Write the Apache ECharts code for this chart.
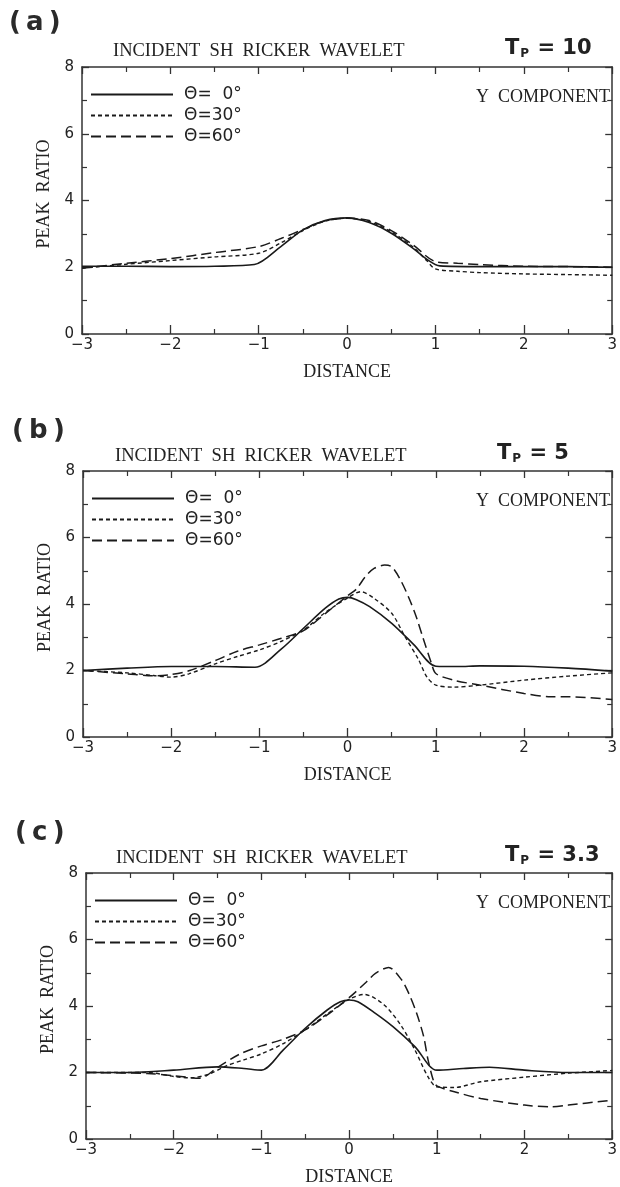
<!DOCTYPE html>
<html>
<head>
<meta charset="utf-8">
<script src="https://cdn.jsdelivr.net/npm/echarts@6/dist/echarts.min.js"></script>
<style>
html,body{margin:0;padding:0;background:#fff;}
#chart{width:620px;height:1187px;}
</style>
</head>
<body>
<div id="chart"></div>
<script>
// ---- data ----
const seriesNames = ['\u0398=  0\u00b0', '\u0398=30\u00b0', '\u0398=60\u00b0'];
const panelLabels = ['(\u2009a\u2009)', '(\u2009b\u2009)', '(\u2009c\u2009)'];
const tpValues = ['10', '5', '3.3'];
const xTicks = [-3, -2, -1, 0, 1, 2, 3];
const yTicks = [0, 2, 4, 6, 8];

// panel (a) Tp = 10
const xA0 = [-3, -2.5, -2, -1.5, -1.05, -0.75, -0.5, -0.25, 0, 0.25, 0.5, 0.75, 0.9, 1.05, 1.5, 2, 2.5, 3];
const yA0 = [2.03, 2.03, 2.02, 2.03, 2.08, 2.62, 3.12, 3.4, 3.48, 3.34, 3.02, 2.56, 2.24, 2.04, 2.02, 2.02, 2.02, 2.0];
const xA30 = [-3, -2.5, -2, -1.5, -1, -0.75, -0.5, -0.25, 0, 0.25, 0.5, 0.75, 0.9, 1.0, 1.25, 1.5, 2, 2.5, 3];
const yA30 = [1.97, 2.09, 2.2, 2.31, 2.42, 2.73, 3.1, 3.38, 3.47, 3.37, 3.06, 2.6, 2.2, 1.95, 1.88, 1.84, 1.8, 1.78, 1.76];
const xA60 = [-3, -2.5, -2, -1.5, -1, -0.75, -0.5, -0.25, 0, 0.25, 0.5, 0.75, 1.0, 1.25, 1.5, 2, 2.5, 3];
const yA60 = [1.97, 2.12, 2.26, 2.44, 2.62, 2.86, 3.13, 3.39, 3.47, 3.4, 3.1, 2.66, 2.17, 2.12, 2.08, 2.03, 2.02, 2.0];

// panel (b) Tp = 5
const xB0 = [-3, -2.5, -2, -1.5, -1.05, -0.75, -0.5, -0.25, -0.1, 0, 0.1, 0.25, 0.5, 0.75, 1.0, 1.25, 1.5, 2, 2.5, 3];
const yB0 = [2.0, 2.07, 2.12, 2.12, 2.1, 2.65, 3.27, 3.88, 4.15, 4.2, 4.13, 3.92, 3.42, 2.78, 2.13, 2.12, 2.14, 2.13, 2.07, 1.98];
const xB30 = [-3, -2.5, -2.2, -2, -1.8, -1.5, -1.25, -1, -0.75, -0.5, -0.25, 0, 0.15, 0.3, 0.5, 0.65, 0.8, 0.9, 1.0, 1.2, 1.5, 2, 2.5, 3];
const yB30 = [2.0, 1.93, 1.85, 1.8, 1.9, 2.2, 2.42, 2.62, 2.88, 3.22, 3.75, 4.18, 4.37, 4.17, 3.72, 3.02, 2.35, 1.8, 1.56, 1.5, 1.56, 1.71, 1.83, 1.93];
const xB60 = [-3, -2.5, -2.2, -2, -1.8, -1.5, -1.25, -1, -0.75, -0.5, -0.25, 0, 0.1, 0.2, 0.3, 0.42, 0.5, 0.6, 0.7, 0.78, 0.85, 0.95, 1.0, 1.2, 1.5, 2, 2.3, 2.5, 3];
const yB60 = [2.0, 1.9, 1.84, 1.88, 1.99, 2.3, 2.58, 2.77, 2.97, 3.2, 3.72, 4.25, 4.45, 4.82, 5.07, 5.17, 5.12, 4.72, 4.15, 3.6, 3.02, 2.22, 1.91, 1.71, 1.56, 1.31, 1.21, 1.21, 1.13];

// panel (c) Tp = 3.3
const xC0 = [-3, -2.5, -2, -1.5, -1.2, -1.0, -0.75, -0.5, -0.25, -0.1, 0, 0.1, 0.3, 0.5, 0.75, 1.0, 1.3, 1.6, 2, 2.5, 3];
const yC0 = [2.0, 2.0, 2.07, 2.17, 2.12, 2.07, 2.68, 3.33, 3.88, 4.13, 4.18, 4.13, 3.78, 3.38, 2.78, 2.07, 2.12, 2.16, 2.07, 2.0, 2.0];
const xC30 = [-3, -2.3, -2, -1.8, -1.6, -1.4, -1.2, -1, -0.75, -0.5, -0.25, 0, 0.17, 0.4, 0.6, 0.75, 0.9, 1.0, 1.2, 1.5, 2, 2.5, 3];
const yC30 = [2.0, 2.0, 1.88, 1.84, 1.95, 2.2, 2.38, 2.56, 2.87, 3.28, 3.76, 4.2, 4.35, 4.03, 3.38, 2.68, 1.87, 1.57, 1.55, 1.72, 1.86, 1.98, 2.06];
const xC60 = [-3, -2.3, -2, -1.7, -1.5, -1.25, -1, -0.75, -0.5, -0.25, 0, 0.2, 0.3, 0.45, 0.6, 0.68, 0.77, 0.85, 0.9, 0.96, 1.0, 1.2, 1.5, 2, 2.3, 2.5, 3];
const yC60 = [2.0, 1.97, 1.9, 1.83, 2.15, 2.55, 2.8, 3.0, 3.28, 3.73, 4.25, 4.73, 4.98, 5.16, 4.78, 4.38, 3.78, 3.08, 2.38, 1.77, 1.6, 1.42, 1.22, 1.02, 0.97, 1.02, 1.17];

const panelData = [
  [[xA0, yA0], [xA30, yA30], [xA60, yA60]],
  [[xB0, yB0], [xB30, yB30], [xB60, yB60]],
  [[xC0, yC0], [xC30, yC30], [xC60, yC60]]
];

// ---- layout / style ----
const grids = [
  {left: 82, top: 67, width: 533, height: 267},
  {left: 83, top: 471, width: 532, height: 266},
  {left: 86, top: 873, width: 531, height: 266}
];
const panelLabelPos = [{left: 9, cy: 22}, {left: 12, cy: 430}, {left: 15, cy: 832}];
const headPos = [{left: 113, cy: 50, tp: 505}, {left: 115, cy: 455, tp: 497}, {left: 116, cy: 857, tp: 505}];
const lineStyles = [
  {type: 'solid', width: 1.6},
  {type: [4, 3], width: 1.4},
  {type: [10, 5], width: 1.5}
];
const ink = '#1a1a1a';
const serif = '"Liberation Serif", "DejaVu Serif", serif';
const sans = '"DejaVu Sans", "Liberation Sans", sans-serif';

const fmt = v => (v < 0 ? '\u2212' + Math.abs(v) : String(v));

const option = {
  backgroundColor: '#fff',
  animation: false,
  grid: grids.map(g => Object.assign({containLabel: false}, g)),
  xAxis: [], yAxis: [], series: [], title: [], legend: []
};

grids.forEach((g, i) => {
  const axLine = {show: true, onZero: false, lineStyle: {color: '#333', width: 1.5}};
  option.xAxis.push({
    type: 'value', gridIndex: i, min: xTicks[0], max: xTicks[xTicks.length - 1], interval: 1,
    axisLine: axLine,
    axisTick: {show: true, inside: true, length: 9, lineStyle: {color: '#333', width: 1.3}},
    minorTick: {show: true, splitNumber: 2, length: 5, lineStyle: {color: '#333', width: 1.2}},
    splitLine: {show: false},
    axisLabel: {margin: 4, formatter: fmt, fontFamily: sans, fontSize: 15, color: '#222'},
    name: 'DISTANCE', nameLocation: 'middle', nameGap: 29,
    nameTextStyle: {fontFamily: serif, fontSize: 18, color: '#222'}
  });
  option.xAxis.push({
    type: 'value', gridIndex: i, position: 'top', min: xTicks[0], max: xTicks[xTicks.length - 1], interval: 1,
    axisLine: axLine,
    axisTick: {show: true, inside: true, length: 7, lineStyle: {color: '#333', width: 1.3}},
    minorTick: {show: true, splitNumber: 2, length: 5, lineStyle: {color: '#333', width: 1.2}},
    splitLine: {show: false}, axisLabel: {show: false}
  });
  option.yAxis.push({
    type: 'value', gridIndex: i, min: yTicks[0], max: yTicks[yTicks.length - 1], interval: 2,
    axisLine: axLine,
    axisTick: {show: true, inside: true, length: 7, lineStyle: {color: '#333', width: 1.3}},
    minorTick: {show: true, splitNumber: 2, length: 5, lineStyle: {color: '#333', width: 1.2}},
    splitLine: {show: false},
    axisLabel: {margin: 8, fontFamily: sans, fontSize: 15, color: '#222'},
    name: 'PEAK  RATIO', nameLocation: 'middle', nameGap: 27,
    nameTextStyle: {fontFamily: serif, fontSize: 18, color: '#222', padding: [0, 0, 0, 13]}
  });
  option.yAxis.push({
    type: 'value', gridIndex: i, position: 'right', min: yTicks[0], max: yTicks[yTicks.length - 1], interval: 2,
    axisLine: axLine,
    axisTick: {show: true, inside: true, length: 7, lineStyle: {color: '#333', width: 1.3}},
    minorTick: {show: true, splitNumber: 2, length: 5, lineStyle: {color: '#333', width: 1.2}},
    splitLine: {show: false}, axisLabel: {show: false}
  });

  panelData[i].forEach((pair, k) => {
    const [xs, ys] = pair;
    option.series.push({
      type: 'line', name: seriesNames[k],
      xAxisIndex: i * 2, yAxisIndex: i * 2,
      data: xs.map((x, j) => [x, ys[j]]),
      symbol: 'none', smooth: 0.3,
      lineStyle: Object.assign({color: ink}, lineStyles[k]),
      itemStyle: {color: ink},
      z: 3 - k
    });
  });

  option.title.push({
    text: panelLabels[i], left: panelLabelPos[i].left, top: panelLabelPos[i].cy - 12, padding: 0,
    textStyle: {fontFamily: sans, fontSize: 26, fontWeight: 'bold', color: '#2a2a2a'}
  });
  option.title.push({
    text: 'INCIDENT  SH  RICKER  WAVELET', left: headPos[i].left, top: headPos[i].cy - 8, padding: 0,
    textStyle: {fontFamily: serif, fontSize: 18.5, fontWeight: 'normal', color: '#222'}
  });
  option.title.push({
    text: '{t|T}{s|P}{t| = ' + tpValues[i] + '}', left: headPos[i].tp, top: headPos[i].cy - 12, padding: 0,
    textStyle: {
      rich: {
        t: {fontFamily: sans, fontSize: 21, fontWeight: 'bold', color: '#222'},
        s: {fontFamily: sans, fontSize: 12, fontWeight: 'bold', color: '#222', padding: [10, 1, 0, 1]}
      }
    }
  });
  option.title.push({
    text: 'Y  COMPONENT', right: 10, top: g.top + 21, padding: 0,
    textStyle: {fontFamily: serif, fontSize: 18, fontWeight: 'normal', color: '#222'}
  });

  option.legend.push({
    data: seriesNames, orient: 'vertical', left: g.left + 8, top: g.top + 19,
    itemWidth: 82, itemHeight: 14, itemGap: 4, padding: 0,
    selectedMode: false,
    itemStyle: {opacity: 0, borderWidth: 0},
    textStyle: {fontFamily: sans, fontSize: 17, color: '#222', padding: [0, 0, 0, 6]}
  });
});

const chart = echarts.init(document.getElementById('chart'), null, {renderer: 'canvas'});
chart.setOption(option);
</script>
</body>
</html>
